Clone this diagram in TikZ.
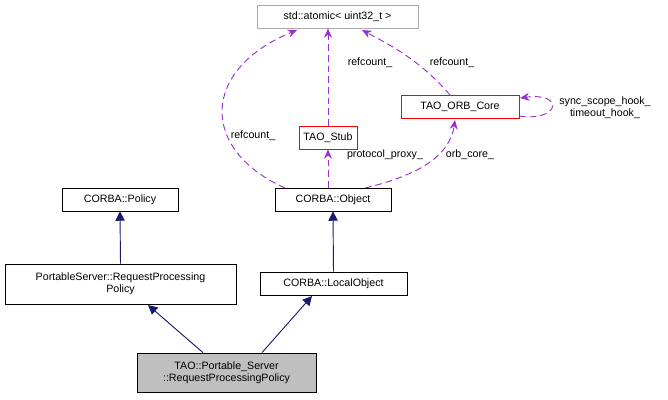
\documentclass[tikz,border=0pt]{standalone}
\usepackage{fontspec}
\setmainfont{Liberation Sans}
\usetikzlibrary{arrows.meta}
\begin{document}
\begin{tikzpicture}[x=0.75pt,y=-0.75pt,font=\fontsize{8}{9}\selectfont,
 box/.style={draw=black,fill=white,rectangle,inner sep=2pt,align=center,line width=0.6pt},
 inh/.style={draw={rgb,255:red,25;green,25;blue,112},line width=0.7pt,-{Triangle[length=7pt,width=7pt]}},
 use/.style={draw={rgb,255:red,153;green,50;blue,204},line width=0.7pt,dash pattern=on 5pt off 3pt,-{Stealth[length=7pt,width=6pt]}},
 lab/.style={fill=none,inner sep=1pt}]
\useasboundingbox (0,0) rectangle (668,400);
\node[box,draw={rgb,255:red,170;green,170;blue,170},minimum width=161*0.75pt,minimum height=23*0.75pt] (atom) at (337.5,16.5) {std::atomic< uint32\_t >};
\node[box,draw=red,minimum width=58*0.75pt,minimum height=23*0.75pt] (stub) at (328,137.5) {TAO\_Stub};
\node[box,draw=red,minimum width=118*0.75pt,minimum height=23*0.75pt] (orb) at (460,106.5) {TAO\_ORB\_Core};
\node[box,minimum width=116*0.75pt,minimum height=23*0.75pt] (obj) at (333,199.5) {CORBA::Object};
\node[box,minimum width=116*0.75pt,minimum height=23*0.75pt] (pol) at (120,199.5) {CORBA::Policy};
\node[box,minimum width=231*0.75pt,minimum height=40*0.75pt] (rpp) at (120.5,284) {PortableServer::RequestProcessing\\Policy};
\node[box,minimum width=147*0.75pt,minimum height=23*0.75pt] (lo) at (333.5,283.5) {CORBA::LocalObject};
\node[box,fill={rgb,255:red,191;green,191;blue,191},minimum width=179*0.75pt,minimum height=39*0.75pt] (tao) at (226.5,372.5) {TAO::Portable\_Server\\::RequestProcessingPolicy};
\draw[inh] (rpp.north) -- (pol.south);
\draw[inh] (lo.north) -- (obj.south);
\draw[inh] (tao.north -| 203,0) -- (148,305);
\draw[inh] (tao.north -| 262,0) -- (312,296);
\draw[use] (285,188) .. controls (200,150) and (200,70) .. (297,30);
\node[lab] (l1) at (253,136) {refcount\_};
\draw[use] (stub.north) -- (stub.north |- atom.south);
\node[lab] (l2) at (370,63) {refcount\_};
\draw[use] (450,95) .. controls (420,60) and (390,45) .. (362,30);
\node[lab] (l3) at (452,63) {refcount\_};
\draw[use] (obj.north -| stub.south) -- (stub.south);
\node[lab] (l4) at (385,155) {protocol\_proxy\_};
\draw[use] (365,188) .. controls (420,175) and (450,155) .. (455,120);
\node[lab] (l5) at (470,155) {orb\_core\_};
\draw[use] (519,116) .. controls (560,122) and (565,92) .. (520,98);
\node[lab,align=center] (l6) at (605,108) {sync\_scope\_hook\_\\timeout\_hook\_};
\end{tikzpicture}
\end{document}
